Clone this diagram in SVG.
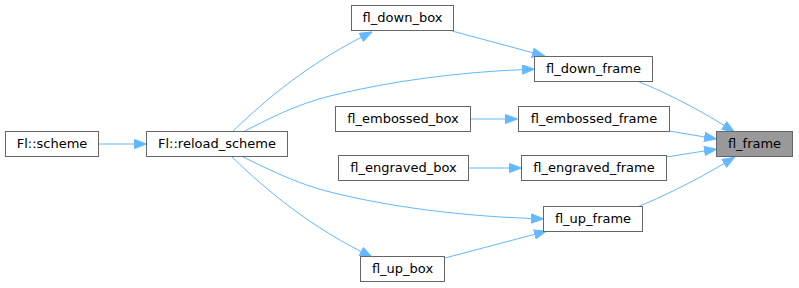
<svg xmlns="http://www.w3.org/2000/svg" width="799" height="288" viewBox="0 0 799 288">
  <style>
    .node rect { fill: #ffffff; stroke: #666666; stroke-width: 1; }
    .node.current rect { fill: #999999; }
    .node text { font-family: "DejaVu Sans", sans-serif; font-size: 13px; fill: #000000; text-anchor: middle; }
    .edge { fill: none; stroke: #63b8ff; stroke-width: 1; marker-end: url(#arrow); }
  </style>
  <defs>
    <!-- arrowhead: tip lies 10px past the end of each path -->
    <marker id="arrow" markerUnits="userSpaceOnUse" viewBox="0 -5 13 10" refX="3" refY="0" markerWidth="13" markerHeight="10" orient="auto">
      <path d="M0.5,-4.5 L12.5,0 L0.5,4.5 Z" fill="#63b8ff" stroke="#63b8ff" stroke-width="1"/>
    </marker>
  </defs>
  <rect width="799" height="288" fill="#ffffff"/>

  <g id="edges">
    <path class="edge" d="M99,144 L137,144"/>
    <path class="edge" d="M232,132 C255,110 300,68 363.5,36.2"/>
    <path class="edge" d="M243,132 C266,120 297,104 330,96 C390,81 460,72 525,69.5"/>
    <path class="edge" d="M243,157 C266,168 297,184 330,192 C390,207 460,216 534,218.6"/>
    <path class="edge" d="M232,157 C255,179 300,221 363.5,252.8"/>
    <path class="edge" d="M452,31 L535.3,53.4"/>
    <path class="edge" d="M471,119 L508,119"/>
    <path class="edge" d="M468,168 L512,168"/>
    <path class="edge" d="M445,258 L537.3,233.6"/>
    <path class="edge" d="M637,81 C660,90 695,107 726.4,126.9"/>
    <path class="edge" d="M669,131 L707.1,137.4"/>
    <path class="edge" d="M666,157 L707.1,150.6"/>
    <path class="edge" d="M637,207 C660,198 695,181 726.4,162.1"/>
  </g>

  <g id="node-fl-scheme" class="node">
    <rect x="5.5" y="131.5" width="93" height="25"/>
    <text x="52" y="148">Fl::scheme</text>
  </g>
  <g id="node-fl-reload-scheme" class="node">
    <rect x="146.5" y="131.5" width="141" height="25"/>
    <text x="217" y="148">Fl::reload_scheme</text>
  </g>
  <g id="node-fl-down-box" class="node">
    <rect x="351.5" y="5.5" width="102" height="25"/>
    <text x="402.5" y="22">fl_down_box</text>
  </g>
  <g id="node-fl-down-frame" class="node">
    <rect x="534.5" y="56.5" width="118" height="25"/>
    <text x="593.5" y="73">fl_down_frame</text>
  </g>
  <g id="node-fl-embossed-box" class="node">
    <rect x="335.5" y="106.5" width="135" height="25"/>
    <text x="403" y="123">fl_embossed_box</text>
  </g>
  <g id="node-fl-embossed-frame" class="node">
    <rect x="518.5" y="106.5" width="151" height="25"/>
    <text x="594" y="123">fl_embossed_frame</text>
  </g>
  <g id="node-fl-frame" class="node current">
    <rect x="716.5" y="131.5" width="76" height="25"/>
    <text x="754.5" y="148">fl_frame</text>
  </g>
  <g id="node-fl-engraved-box" class="node">
    <rect x="338.5" y="155.5" width="130" height="25"/>
    <text x="403.5" y="172">fl_engraved_box</text>
  </g>
  <g id="node-fl-engraved-frame" class="node">
    <rect x="521.5" y="155.5" width="145" height="25"/>
    <text x="594" y="172">fl_engraved_frame</text>
  </g>
  <g id="node-fl-up-frame" class="node">
    <rect x="543.5" y="206.5" width="99" height="25"/>
    <text x="593" y="223">fl_up_frame</text>
  </g>
  <g id="node-fl-up-box" class="node">
    <rect x="360.5" y="256.5" width="84" height="25"/>
    <text x="402.5" y="273">fl_up_box</text>
  </g>
</svg>
